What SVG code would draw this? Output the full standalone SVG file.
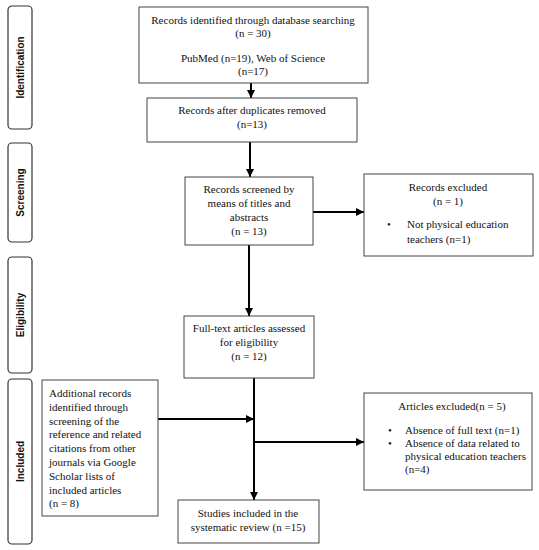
<svg xmlns="http://www.w3.org/2000/svg" width="539" height="550" viewBox="0 0 539 550">
<style>
.box{fill:#fff;stroke:#444;stroke-width:1}
.side{fill:#fff;stroke:#333;stroke-width:1.2}
.t{font-family:"Liberation Serif","Times New Roman",serif;font-size:11px;fill:#111}
.c{text-anchor:middle}
.s{font-family:"Liberation Sans",Arial,sans-serif;font-size:10px;font-weight:bold;fill:#111;text-anchor:middle}
.ln{fill:none;stroke:#000;stroke-width:2}
</style>
<defs>
<marker id="ah" viewBox="0 0 10 10" refX="10" refY="5" markerWidth="4" markerHeight="4" orient="auto" markerUnits="strokeWidth">
<path d="M0,0 L10,5 L0,10 z" fill="#000"/>
</marker>
</defs>
<rect width="539" height="550" fill="#fff"/>
<g id="phase-identification">
<rect class="side" x="8" y="6" width="24" height="123" rx="4"/>
<text class="s" transform="translate(23.5,67.5) rotate(-90)">Identification</text>
</g>
<g id="phase-screening">
<rect class="side" x="8" y="143" width="24" height="99" rx="4"/>
<text class="s" transform="translate(23.5,192.5) rotate(-90)">Screening</text>
</g>
<g id="phase-eligibility">
<rect class="side" x="8" y="257" width="24" height="116" rx="4"/>
<text class="s" transform="translate(23.5,315) rotate(-90)">Eligibility</text>
</g>
<g id="phase-included">
<rect class="side" x="8" y="379" width="24" height="165" rx="4"/>
<text class="s" transform="translate(23.5,461.5) rotate(-90)">Included</text>
</g>
<g id="connectors">
<line class="ln" x1="251" y1="83" x2="251" y2="98" marker-end="url(#ah)"/>
<line class="ln" x1="250" y1="142" x2="250" y2="177" marker-end="url(#ah)"/>
<line class="ln" x1="313" y1="212" x2="364" y2="212" marker-end="url(#ah)"/>
<line class="ln" x1="249" y1="245" x2="249" y2="316" marker-end="url(#ah)"/>
<line class="ln" x1="254" y1="378" x2="254" y2="500" marker-end="url(#ah)"/>
<line class="ln" x1="158" y1="419" x2="254" y2="419" marker-end="url(#ah)"/>
<line class="ln" x1="254" y1="442" x2="364" y2="442" marker-end="url(#ah)"/>
</g>
<g id="records-identified">
<rect class="box" x="139" y="7" width="229" height="76"/>
<text class="t c" x="253" y="24">Records identified through database searching</text>
<text class="t c" x="253" y="37">(n = 30)</text>
<text class="t c" x="253" y="62">PubMed (n=19), Web of Science</text>
<text class="t c" x="253" y="75">(n=17)</text>
</g>
<g id="duplicates-removed">
<rect class="box" x="147" y="98" width="210" height="44"/>
<text class="t c" x="252" y="114">Records after duplicates removed</text>
<text class="t c" x="252" y="128">(n=13)</text>
</g>
<g id="records-screened">
<rect class="box" x="185" y="177" width="128" height="68"/>
<text class="t c" x="249" y="193">Records screened by</text>
<text class="t c" x="249" y="207">means of titles and</text>
<text class="t c" x="249" y="221">abstracts</text>
<text class="t c" x="249" y="235">(n = 13)</text>
</g>
<g id="records-excluded">
<rect class="box" x="364" y="174" width="169" height="82"/>
<text class="t c" x="448" y="191">Records excluded</text>
<text class="t c" x="448" y="205">(n = 1)</text>
<text class="t" x="387" y="228">•</text>
<text class="t" x="407" y="228">Not physical education</text>
<text class="t" x="407" y="243">teachers (n=1)</text>
</g>
<g id="full-text">
<rect class="box" x="184" y="316" width="130" height="62"/>
<text class="t c" x="249" y="332">Full-text articles assessed</text>
<text class="t c" x="249" y="346">for eligibility</text>
<text class="t c" x="249" y="360">(n = 12)</text>
</g>
<g id="additional-records">
<rect class="box" x="42" y="380" width="116" height="136"/>
<text class="t" x="49" y="397">Additional records</text>
<text class="t" x="49" y="411">identified through</text>
<text class="t" x="49" y="425">screening of the</text>
<text class="t" x="49" y="438">reference and related</text>
<text class="t" x="49" y="452">citations from other</text>
<text class="t" x="49" y="466">journals via Google</text>
<text class="t" x="49" y="480">Scholar lists of</text>
<text class="t" x="49" y="494">included articles</text>
<text class="t" x="49" y="507">(n = 8)</text>
</g>
<g id="articles-excluded">
<rect class="box" x="364" y="393" width="168" height="97"/>
<text class="t c" x="452" y="410">Articles excluded(n = 5)</text>
<text class="t" x="388" y="434">•</text>
<text class="t" x="405" y="434">Absence of full text (n=1)</text>
<text class="t" x="388" y="447">•</text>
<text class="t" x="405" y="447">Absence of data related to</text>
<text class="t" x="405" y="460">physical education teachers</text>
<text class="t" x="405" y="473">(n=4)</text>
</g>
<g id="studies-included">
<rect class="box" x="178" y="500" width="141" height="43"/>
<text class="t c" x="248" y="517">Studies included in the</text>
<text class="t c" x="248" y="531">systematic review (n =15)</text>
</g>
</svg>
